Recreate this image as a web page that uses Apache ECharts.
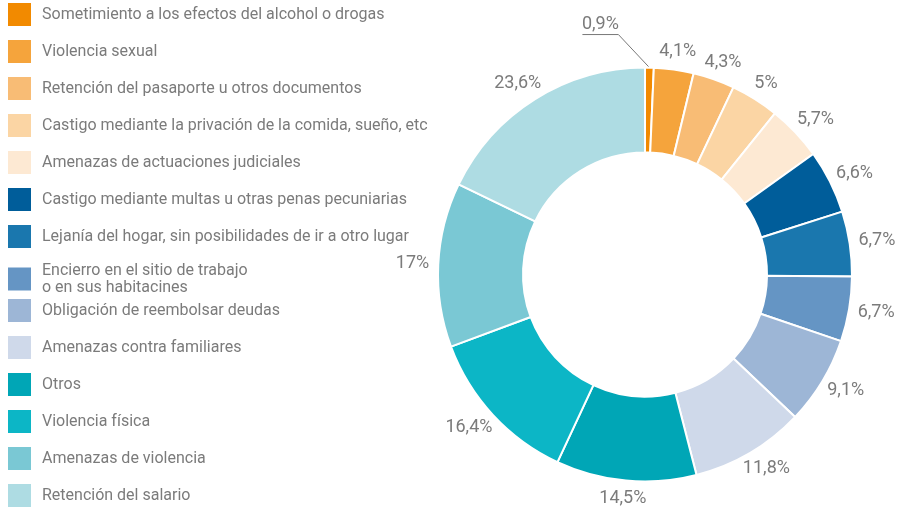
<!DOCTYPE html>
<html>
<head>
<meta charset="utf-8">
<script src="https://cdn.jsdelivr.net/npm/echarts@6/dist/echarts.min.js"></script>
<style>
  html, body { margin: 0; padding: 0; background: #fff; }
  #chart { width: 906px; height: 511px; }
</style>
</head>
<body>
<div id="chart"></div>
<script>
  // categories, in legend / clockwise order from 12 o'clock
  var categories = [
    'Sometimiento a los efectos del alcohol o drogas',
    'Violencia sexual',
    'Retención del pasaporte u otros documentos',
    'Castigo mediante la privación de la comida, sueño, etc',
    'Amenazas de actuaciones judiciales',
    'Castigo mediante multas u otras penas pecuniarias',
    'Lejanía del hogar, sin posibilidades de ir a otro lugar',
    'Encierro en el sitio de trabajo\no en sus habitacines',
    'Obligación de reembolsar deudas',
    'Amenazas contra familiares',
    'Otros',
    'Violencia física',
    'Amenazas de violencia',
    'Retención del salario'
  ];
  var values = [0.9, 4.1, 4.3, 5, 5.7, 6.6, 6.7, 6.7, 9.1, 11.8, 14.5, 16.4, 17, 23.6];
  var colors = [
    '#f28a00', '#f5a43c', '#f8bc75', '#fbd5a4', '#fde9d3',
    '#005d9a', '#1a77ae', '#6595c4', '#9db6d6', '#cfd9ea',
    '#00a6b6', '#0cb6c6', '#7ac8d4', '#aedce3'
  ];

  var FONT = "'Liberation Sans Narrow', 'Roboto', sans-serif";
  var TEXT = '#7b7b7b';
  var CX = 645, CY = 274.5;

  function pct(v) {
    return String(v).replace('.', ',') + '%';
  }

  var pieData = categories.map(function (name, i) {
    var item = {name: name, value: values[i], itemStyle: {color: colors[i]}};
    if (i === 0) {
      // the thin first slice gets a leader line
      item.label = {show: true, position: 'outside'};
      item.labelLine = {show: true, length: 20, length2: 20};
    }
    return item;
  });

  var ringData = categories.map(function (name, i) {
    return {name: name, value: values[i], label: {show: i !== 0}};
  });

  var chart = echarts.init(document.getElementById('chart'));

  var legendBase = {
    orient: 'vertical',
    left: 8,
    padding: 0,
    height: 330,
    icon: 'rect',
    itemWidth: 23,
    itemHeight: 23,
    itemGap: 14,
    selectedMode: false,
    itemStyle: {borderWidth: 0},
    textStyle: {
      fontFamily: FONT,
      fontSize: 16,
      lineHeight: 17,
      color: TEXT,
      padding: [0, 0, 0, 6]
    }
  };

  chart.setOption({
    animation: false,
    legend: [
      Object.assign({}, legendBase, {top: 3, data: categories.slice(0, 8)}),
      Object.assign({}, legendBase, {top: 299, height: 220, data: categories.slice(8)})
    ],
    series: [
      {
        name: 'main',
        type: 'pie',
        center: [CX, CY],
        radius: [122, 207],
        startAngle: 90,
        avoidLabelOverlap: false,
        itemStyle: {borderColor: '#fff', borderWidth: 2},
        label: {
          show: false,
          fontFamily: FONT,
          fontSize: 18,
          color: TEXT,
          formatter: function (p) { return pct(p.value); }
        },
        labelLine: {show: false, lineStyle: {color: '#777', width: 1}},
        labelLayout: function (params) {
          if (params.dataIndex !== 0 || !params.labelLinePoints) return {};
          var p0 = params.labelLinePoints[0];
          var p1 = [p0[0] - 31, p0[1] - 33];
          var p2 = [p1[0] - 36, p1[1]];
          return {
            x: (p1[0] + p2[0]) / 2,
            y: p1[1] - 10,
            align: 'center',
            verticalAlign: 'middle',
            labelLinePoints: [p0, p1, p2]
          };
        },
        emphasis: {disabled: true},
        data: pieData
      },
      {
        name: 'labels',
        type: 'pie',
        center: [CX, CY],
        radius: [207, 219],
        startAngle: 90,
        silent: true,
        legendHoverLink: false,
        itemStyle: {color: 'rgba(0,0,0,0)', borderWidth: 0},
        label: {
          position: 'inside',
          fontFamily: FONT,
          fontSize: 18,
          color: TEXT,
          formatter: function (p) { return pct(p.value); }
        },
        labelLine: {show: false},
        labelLayout: function (params) {
          // push each label out so its box just clears the ring
          var r = params.labelRect;
          var lx = r.x + r.width / 2, ly = r.y + r.height / 2;
          var dx = lx - CX, dy = ly - CY;
          var d = Math.sqrt(dx * dx + dy * dy) || 1;
          var ux = dx / d, uy = dy / d;
          return {
            x: lx + ux * r.width / 2,
            y: ly + uy * r.height / 2,
            align: 'center',
            verticalAlign: 'middle'
          };
        },
        emphasis: {disabled: true},
        data: ringData
      }
    ]
  });
</script>
</body>
</html>
